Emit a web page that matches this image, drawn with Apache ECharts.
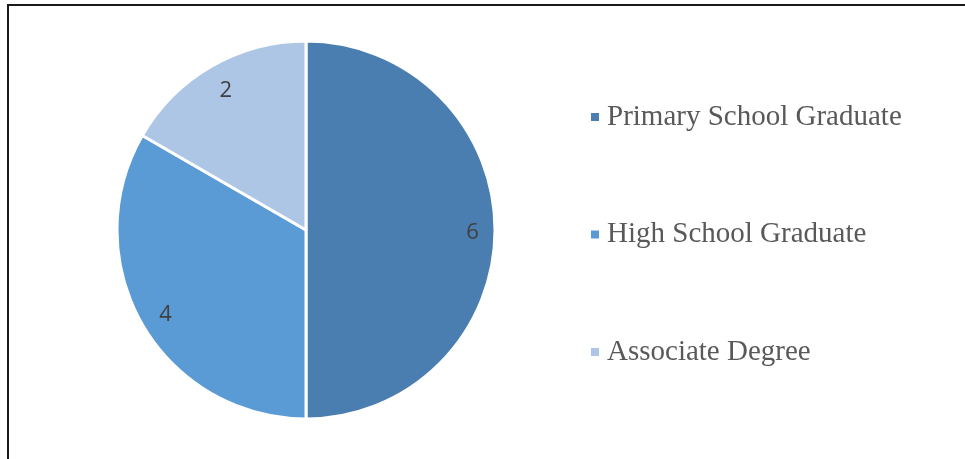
<!DOCTYPE html>
<html>
<head>
<meta charset="utf-8">
<script src="https://cdn.jsdelivr.net/npm/echarts@6/dist/echarts.min.js"></script>
<style>
  html, body { margin: 0; padding: 0; background: #fff; overflow: hidden; }
  #frame { position: absolute; left: 7px; top: 4px; width: 1000px; height: 500px; border-left: 2px solid #1a1a1a; border-top: 2px solid #1a1a1a; }
  #chart { position: absolute; left: 0; top: 0; width: 965px; height: 459px; }
</style>
</head>
<body>
<div id="frame"></div>
<div id="chart"></div>
<script>
const categories = ['Primary School Graduate', 'High School Graduate', 'Associate Degree'];
const values = [6, 4, 2];
const colors = ['#4a7eb0', '#5b9bd5', '#adc6e5'];

const pieCenter = [306, 230];
const pieRadius = 189;
const labelRadiusFactor = 0.87; // fraction of radius where labels sit

const chart = echarts.init(document.getElementById('chart'));
chart.setOption({
  animation: false,
  legend: {
    orient: 'vertical',
    left: 586,
    top: 97,
    icon: 'rect',
    itemWidth: 8,
    itemHeight: 8,
    itemGap: 87.5,
    selectedMode: false,
    data: categories,
    itemStyle: { borderWidth: 0 },
    textStyle: {
      fontFamily: 'Liberation Serif, Times New Roman, serif',
      fontSize: 29,
      color: '#595959',
      lineHeight: 30,
      padding: [0, 0, 0, 3]
    }
  },
  series: [{
    type: 'pie',
    center: pieCenter,
    radius: pieRadius,
    startAngle: 90,
    clockwise: true,
    silent: true,
    itemStyle: { borderColor: '#ffffff', borderWidth: 3 },
    label: {
      show: true,
      position: 'inside',
      formatter: '{c}',
      fontFamily: 'Open Sans, Liberation Sans, sans-serif',
      fontSize: 22,
      color: '#404040'
    },
    labelLine: { show: false },
    labelLayout: function (params) {
      const r = params.labelRect;
      const lx = r.x + r.width / 2;
      const ly = r.y + r.height / 2;
      const dx = lx - pieCenter[0];
      const dy = ly - pieCenter[1];
      const d = Math.sqrt(dx * dx + dy * dy) || 1;
      const target = pieRadius * labelRadiusFactor;
      return {
        x: pieCenter[0] + dx / d * target + 2,
        y: pieCenter[1] + dy / d * target + 3,
        align: 'center',
        verticalAlign: 'middle'
      };
    },
    data: categories.map((c, i) => ({ name: c, value: values[i], itemStyle: { color: colors[i] } }))
  }]
});
</script>
</body>
</html>
